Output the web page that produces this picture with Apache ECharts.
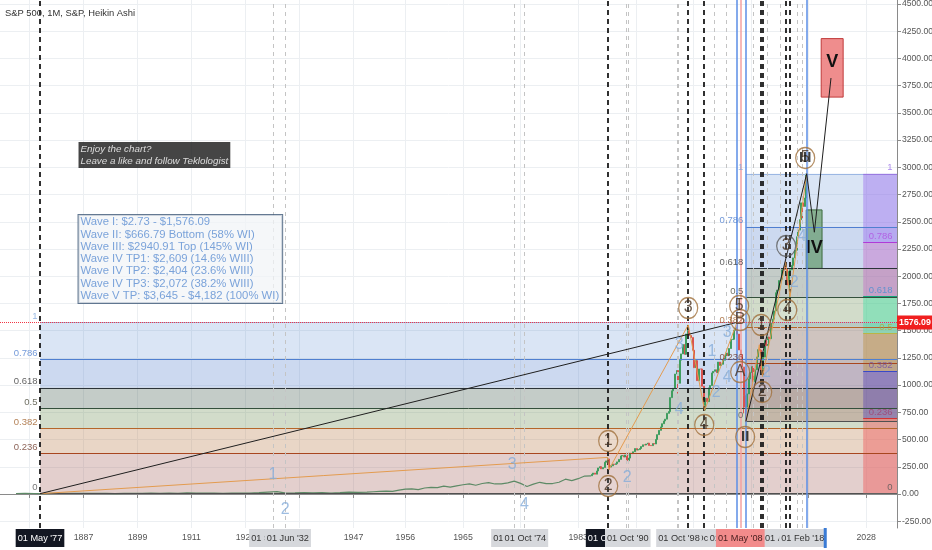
<!DOCTYPE html>
<html><head><meta charset="utf-8">
<script src="https://cdn.jsdelivr.net/npm/echarts@6/dist/echarts.min.js"></script>
<style>html,body{margin:0;padding:0;background:#fff}#c{width:932px;height:550px}</style>
</head><body><div id="c"></div><script>
// ---------------- DATA ----------------
const chartTitle = 'S&P 500, 1M, S&P, Heikin Ashi';
const yTicks = [-250,0,250,500,750,1000,1250,1500,1750,2000,2250,2500,2750,3000,3250,3500,3750,4000,4250,4500];
const xTickYears = [1875,1887,1899,1911,1923,1935,1947,1956,1965,1974,1983,1992,2001,2010,2019,2028];

// yearly (biennial before 1950) closes
const earlyYears = [1871,1873,1875,1877,1879,1881,1883,1885,1887,1889,1891,1893,1895,1897,1899,1901,1903,1905,1907,1909,
  1911,1913,1915,1917,1919,1921,1923,1925,1927,1929,1931,1933,1935,1937,1939,1941,1943,1945,1947,1949,
  1950,1951,1952,1953,1954,1955,1956,1957,1958,1959,1960,1961,1962,1963,1964,1965,1966,1967,1968,1969,
  1970,1971,1972,1973,1974,1975,1976,1977,1978,1979,1980,1981,1982,1983,1984];
const earlyClose = [4.44,4.8,4.5,3.3,4.9,6.2,5.3,5.2,5.4,5.3,5.5,4.3,5.1,5.4,6.9,8.3,6.3,9.3,7.0,10.3,
  9.1,8.0,8.8,6.8,8.9,7.3,8.9,12.5,17.7,21.5,8.1,10.1,13.4,10.6,12.1,8.7,11.7,17.4,15.3,16.8,
  20.4,23.8,26.6,24.8,36.0,45.5,46.7,40.0,55.2,59.9,58.1,71.6,63.1,75.0,84.8,92.4,80.3,96.5,103.9,92.1,
  92.2,102.1,118.1,97.6,68.6,90.2,107.5,95.1,96.1,107.9,135.8,122.6,140.6,164.9,167.2];

// quarterly closes from 1985 Q1
const quarterStart = 1985;
const quarterClose = [180.7,191.9,182.1,211.3, 238.9,250.8,231.3,242.2, 291.7,304.0,321.8,247.1, 258.9,273.5,271.9,277.7,
  294.9,317.9,349.2,353.4, 339.9,358.0,306.1,330.2, 375.2,371.2,387.9,417.1, 403.7,408.1,417.8,435.7,
  451.7,450.5,458.9,466.5, 445.8,444.3,462.7,459.3, 500.7,544.8,584.4,615.9, 645.5,670.6,687.3,740.7,
  757.1,885.1,947.3,970.4, 1101.8,1133.8,1017.0,1229.2, 1286.4,1372.7,1282.7,1469.3, 1498.6,1454.6,1436.5,1320.3,
  1160.3,1224.4,1040.9,1148.1, 1147.4,989.8,815.3,879.8, 848.2,974.5,996.0,1111.9, 1126.2,1140.8,1114.6,1211.9,
  1180.6,1191.3,1228.8,1248.3, 1294.9,1270.2,1335.9,1418.3, 1420.9,1503.4,1526.8,1468.4, 1322.7,1280.0,1166.4,903.3,
  797.9,919.3,1057.1,1115.1, 1169.4,1030.7,1141.2,1257.6, 1325.8,1320.6,1131.4,1257.6, 1408.5,1362.2,1440.7,1426.2,
  1569.2,1606.3,1681.6,1848.4, 1872.3,1960.2,1972.3,2058.9, 2067.9,2063.1,1920.0,2043.9, 2059.7,2098.9,2168.3,2238.8,
  2362.7,2423.4,2519.4,2673.6, 2640.9,2718.4,2913.98];
// intra-quarter extremes [year, price]
const wickExtremes = [[1987.6,336],[1987.8,224],[1990.8,295],[1998.7,923],[2000.2,1552.9],[2002.75,768],[2007.8,1576.09],
  [2008.9,741],[2009.2,666.79],[2011.3,1370],[2011.8,1075],[2015.4,2134],[2016.1,1810],[2018.1,2532],[2018.7,2940.91]];

const lastPrice = 1576.09;

// wave pivots [year, price]
const primaryWaveI = [[1877.33,2.73],[2007.8,1576.09]];
const primaryWaveIII = [[2009.2,666.79],[2018.7,2940.91],[2019.9,2404],[2022.5,3820]];
const subWavesI = [[1877.33,2.73],[1987.6,336],[1987.8,224],[2000.2,1552.9],[2002.75,768],[2007.8,1576.09]];
const subWavesIII = [[2009.2,666.79],[2011.3,1370],[2011.8,1075],[2015.4,2134],[2016.1,1810],[2018.7,2940.91]];

// target boxes [startYear, endYear, low, high, label]
const targetBoxes = [[2018.63,2021.1,2072,2609,'IV'],[2020.97,2024.4,3645,4182,'V']];

// fib retracements
const fibRatios = [1,0.786,0.618,0.5,0.382,0.236,0];
const fibA = {start:1877.33, low:2.73, high:1576.09};
const fibB = {start:2009.2, low:666.79, high:2940.91};
const fibC = {start:2027.53, low:2.73, high:2940.91};

// circled wave labels [year, price, text, kind]
const circleLabels = [[1987.69,487,'1','c'],[1987.69,73,'2','c'],[2000.19,1708,'3','c'],[2002.69,634,'4','c'],
  [2008.16,1727,'5','c'],[2008.16,1727,'I','t'],[2008.31,1598,'B','c'],[2008.31,1120,'A','c'],[2009.09,523,'II','b'],
  [2011.59,1552,'1','c'],[2011.75,937,'2','c'],[2015.5,2278,'3','g'],[2015.66,1690,'4','c'],[2018.47,3086,'5','c'],[2018.47,3086,'III','bt']];
// minor wave labels [year, price, text]
const minorLabels = [[1929.1,174,'1'],[1931.8,-147,'2'],[1972.7,266,'3'],[1974.6,-101,'4'],[1990.65,147,'2'],
  [1998.8,1368,'3'],[1998.8,771,'4'],[2003.9,1304,'1'],[2004.55,928,'2'],[2006.3,1479,'3'],[2006.3,1065,'4'],
  [2012.4,1111,'2'],[2016.75,1938,'2'],[2018.0,2360,'4']];

// vertical markers (years)
const blackDashYears = [1877.33,1987.69,2000.19,2002.69,2011.6,2011.9,2015.5,2016.0];
const grayDashYears = [1929.1,1931.8,1973.0,1974.6,1990.5,1990.8,1998.4,1998.7,2004.3,2006.2,2010.3,2012.6,2014.5,2017.3,2018.0];
const blueLineYears = [2007.8,2009.2,2018.7];
const redLineYears = [2008.33];

// time-axis highlight labels [year, text, kind]
const axisMarks = [[1877.33,"01 May '77",'dark'],[1929.1,"01 Sep '29",'gray'],[1932.42,"01 Jun '32",'gray'],
  [1973.0,"01 Jan '73",'gray'],[1974.75,"01 Oct '74",'gray'],[1987.75,"01 Oct '87",'dark'],[1990.75,"01 Oct '90",'gray'],
  [2002.75,"01 Oct '02",'gray'],[1998.75,"01 Oct '98",'gray'],[2006.8,"01 Oct '06",'gray'],[2011.8,"01 Oct '11",'gray'],
  [2015.6,"01 Aug '15",'gray'],[2018.08,"01 Feb '18",'gray'],[2008.33,"01 May '08",'red'],[2021.6,'','marker']];

// notes: anchor [year, price]
const noteAnchor = [1885.78,3233];
const noteLines = ['Enjoy the chart?','Leave a like and follow Teklologist'];
const infoAnchor = [1885.78,2562];
const infoLines = ['Wave I: $2.73 - $1,576.09','Wave II: $666.79 Bottom (58% WI)','Wave III: $2940.91 Top (145% WI)',
  'Wave IV TP1: $2,609 (14.6% WIII)','Wave IV TP2: $2,404 (23.6% WIII)','Wave IV TP3: $2,072 (38.2% WIII)','Wave V TP: $3,645 - $4,182 (100% WI)'];

// ---------------- STYLE ----------------
const SANS = "'Liberation Sans',Arial,sans-serif";
const abLine = ['#9bb7e3','#4f7fd0','#2b3338','#34503c','#b5662a','#a8461f','#505050'];
const abText = ['#7fa6dc','#4f7fd0','#3a3a3a','#4a4a3a','#a0602a','#6e3a2a','#555555'];
const abZone = ['rgba(70,125,205,0.2)','rgba(85,128,205,0.3)','rgba(86,109,98,0.35)','rgba(105,138,78,0.3)','rgba(182,118,65,0.3)','rgba(162,95,88,0.3)'];
const cLine = ['#9a7ae0','#b03ad8','#15a37a','#b9b545','#3949c8','#d33333','#606060'];
const cText = ['#9a6fe8','#b050e0','#4a8fd0','#b0a840','#7050a8','#a04070','#555555'];
const cZone = ['rgba(156,111,240,0.45)','rgba(200,110,200,0.45)','rgba(80,225,170,0.5)','rgba(190,150,80,0.5)','rgba(90,70,180,0.45)','rgba(240,100,100,0.5)'];
const markStyle = {dark:{bg:'#131722',fg:'#ffffff'},gray:{bg:'#d6d8dc',fg:'#333333'},red:{bg:'#f28b8b',fg:'#4a2020'}};

// time index: pre-1950 history is compressed on the chart's bar axis
const BREAK = 1950, POST = 6.4/4.5;
const tx = y => y <= BREAK ? y : BREAK + (y - BREAK) * POST;
const txInv = i => i <= BREAK ? i : BREAK + (i - BREAK) / POST;
const X_MIN = 1868.44, X_MAX = 2067.78;

// ---------------- BUILD ----------------
const fibVal = (f, r) => f.low + (f.high - f.low) * r;
function fibZones(f, colors, x2) {
  const out = [];
  for (let i = 0; i < fibRatios.length - 1; i++) {
    out.push([{coord:[tx(f.start), fibVal(f, fibRatios[i])], itemStyle:{color:colors[i]}},
              {coord:[x2, fibVal(f, fibRatios[i+1])]}]);
  }
  return out;
}
function fibLines(f, colors) {
  return fibRatios.map((r, i) => [{coord:[tx(f.start), fibVal(f, r)], lineStyle:{color:colors[i], width:1, type:'solid'}},
                                  {coord:[X_MAX, fibVal(f, r)]}]);
}
function fibLabelsLeft(f, colors) {
  return fibRatios.map((r, i) => ({value:[tx(f.start), fibVal(f, r)], label:{formatter:String(r), color:colors[i], position:'left', distance:2, offset:[0,-6]}}));
}
function fibLabelsRight(f, colors) {
  return fibRatios.map((r, i) => ({value:[X_MAX, fibVal(f, r)], label:{formatter:String(r), color:colors[i], position:'left', distance:4, offset:[0,-6]}}));
}

const candleData = [];
let prev = earlyClose[earlyClose.length - 1];
quarterClose.forEach((c, i) => {
  const yr = quarterStart + i * 0.25 + 0.125;
  let lo = Math.min(prev, c), hi = Math.max(prev, c);
  wickExtremes.forEach(([ey, ev]) => {
    if (Math.floor((ey - quarterStart) * 4) === i) { lo = Math.min(lo, ev); hi = Math.max(hi, ev); }
  });
  candleData.push([tx(yr), prev, c, lo, hi]);
  prev = c;
});

const vLines = [];
blackDashYears.forEach(y => vLines.push({xAxis:tx(y), lineStyle:{color:'#1a1a1a', width:1.8, type:[5,4]}}));
grayDashYears.forEach(y => vLines.push({xAxis:tx(y), lineStyle:{color:'#c4c4c4', width:1, type:[4,4]}}));
blueLineYears.forEach(y => vLines.push({xAxis:tx(y), lineStyle:{color:'#5b8ee6', width:1.5, type:'solid'}}));
redLineYears.forEach(y => vLines.push({xAxis:tx(y), lineStyle:{color:'#f3a0a0', width:1.5, type:'solid'}}));

const circleData = circleLabels.map(([y, v, t, k]) => {
  const item = {value:[tx(y), v], label:{formatter:t}};
  if (k === 'g') item.itemStyle = {borderColor:'#5a5a5a'};
  if (k === 't' || k === 'bt') { item.symbolSize = 0; }
  if (k === 'b' || k === 'bt') item.label = {formatter:t, color:'#111', fontWeight:'bold', fontSize:15};
  if (k === 't') item.label = {formatter:t, color:'#4a3320', fontSize:16};
  return item;
});

const lineSeries = (pts, color, z) => ({type:'line', data:pts.map(p => [tx(p[0]), p[1]]), symbol:'none', silent:true, z,
  lineStyle:{color, width:1}});

const option = {
  animation:false,
  title:{text:chartTitle, left:5, top:9, padding:0, textStyle:{fontFamily:SANS, fontSize:9.4, fontWeight:'normal', color:'#333'}},
  grid:{left:0, right:35, top:0, bottom:22, outerBoundsMode:'none', containLabel:false},
  xAxis:{type:'value', min:X_MIN, max:X_MAX,
    axisLine:{lineStyle:{color:'#8a8a8a'}},
    axisTick:{customValues:xTickYears.map(tx), length:4, lineStyle:{color:'#8a8a8a'}},
    axisLabel:{customValues:xTickYears.map(tx), formatter:v => String(Math.round(txInv(v))), color:'#555', fontFamily:SANS, fontSize:8.8, margin:5},
    splitLine:{show:true, lineStyle:{color:'#eceff2'}}},
  yAxis:{type:'value', position:'right', min:-312.3, max:4536.7,
    axisLine:{show:true, lineStyle:{color:'#8a8a8a'}},
    axisTick:{show:true, customValues:yTicks, length:4, lineStyle:{color:'#8a8a8a'}},
    axisLabel:{customValues:yTicks, formatter:v => v.toFixed(2), color:'#555', fontFamily:SANS, fontSize:8.6, margin:5},
    splitLine:{show:true, lineStyle:{color:'#eceff2'}}},
  series:[
    {type:'line', data:[], z:1, silent:true,
      markArea:{silent:true, data:[...fibZones(fibA, abZone, X_MAX), ...fibZones(fibB, abZone, X_MAX), ...fibZones(fibC, cZone, X_MAX)]}},
    {type:'line', data:[], z:2, silent:true,
      markLine:{silent:true, symbol:['none','none'], label:{show:false},
        data:[...fibLines(fibA, abLine), ...fibLines(fibB, abLine), ...fibLines(fibC, cLine), ...vLines,
          {yAxis:lastPrice, lineStyle:{color:'#f23645', width:1, type:'dotted'},
           label:{show:true, position:'end', distance:0, formatter:lastPrice.toFixed(2), color:'#fff', backgroundColor:'#f01f1f',
             padding:[3,2,2,2], fontFamily:SANS, fontSize:8.8, fontWeight:'bold'}}]}},
    {type:'line', data:earlyYears.map((y, i) => [tx(y + 1), earlyClose[i]]), symbol:'none', silent:true, z:3,
      lineStyle:{color:'#5d8a66', width:1.2}},
    {type:'candlestick', data:candleData, encode:{x:0, y:[1,2,3,4]}, barWidth:1.6, silent:true, z:3,
      itemStyle:{color:'#3f9d5f', color0:'#d9534f', borderColor:'#3f9d5f', borderColor0:'#d9534f', borderWidth:1}},
    {type:'line', data:[], z:4, silent:true,
      markArea:{silent:true, data:targetBoxes.map(([a, b, lo, hi, t], i) => [
        {coord:[tx(a), lo], itemStyle:i === 0 ? {color:'rgba(70,135,65,0.55)', borderColor:'#3d6b3d', borderWidth:1} : {color:'rgba(230,80,80,0.65)', borderColor:'#c03a3a', borderWidth:1},
         label:{show:true, position:'inside', formatter:t, color:'#111', fontFamily:SANS, fontSize:18, fontWeight:'bold', offset:i === 0 ? [0,9] : [0,-6]}},
        {coord:[tx(b), hi]}])}},
    lineSeries(subWavesI, '#e39b4f', 5),
    lineSeries(subWavesIII, '#e39b4f', 5),
    lineSeries(primaryWaveI, '#1e1e1e', 5),
    lineSeries(primaryWaveIII, '#1e1e1e', 5),
    {type:'scatter', data:circleData, symbol:'circle', symbolSize:[19,21], silent:true, z:6,
      itemStyle:{color:'rgba(255,255,255,0.12)', borderColor:'#a0703c', borderWidth:1.3},
      label:{show:true, position:'inside', color:'#4a3320', fontFamily:SANS, fontSize:16, textBorderWidth:0}},
    {type:'scatter', data:minorLabels.map(([y, v, t]) => ({value:[tx(y), v], label:{formatter:t}})), symbolSize:1, silent:true, z:6,
      itemStyle:{color:'rgba(0,0,0,0)'}, label:{show:true, position:'inside', color:'#86acd9', fontFamily:SANS, fontSize:16, textBorderWidth:0}},
    {type:'scatter', data:[...fibLabelsLeft(fibA, abText), ...fibLabelsLeft(fibB, abText), ...fibLabelsRight(fibC, cText)],
      symbolSize:1, silent:true, z:6, itemStyle:{color:'rgba(0,0,0,0)'}, label:{show:true, fontFamily:SANS, fontSize:9.5}},
    {type:'scatter', symbolSize:1, silent:true, z:7, itemStyle:{color:'rgba(0,0,0,0)'},
      data:[
        {value:[tx(noteAnchor[0]), noteAnchor[1]], label:{show:true, position:'right', distance:0, align:'left', verticalAlign:'top',
          formatter:noteLines.join('\n'), color:'#fff', fontStyle:'italic', fontFamily:SANS, fontSize:9.8, lineHeight:12,
          backgroundColor:'#161616', padding:[1,2,1,2]}},
        {value:[tx(infoAnchor[0]), infoAnchor[1]], label:{show:true, position:'right', distance:0, align:'left', verticalAlign:'top',
          formatter:infoLines.join('\n'), color:'#5b8dd2', fontFamily:SANS, fontSize:11.3, lineHeight:12.3,
          backgroundColor:'rgba(242,244,247,0.92)', borderColor:'#3d5877', borderWidth:1, padding:[1,3,1,2]}}]},
    {type:'custom', coordinateSystem:'cartesian2d', clip:false, silent:true, z:8,
      data:axisMarks.map(m => [tx(m[0]), 0]),
      renderItem:(params, api) => {
        const m = axisMarks[params.dataIndex];
        const x = api.coord([api.value(0), 0])[0];
        const cs = params.coordSys, yTop = cs.y + cs.height;
        if (m[2] === 'marker') return {type:'rect', shape:{x:x - 1.5, y:yTop, width:3, height:20}, style:{fill:'#3a7bd5'}};
        const st = markStyle[m[2]];
        return {type:'text', x:x, y:yTop + 1, style:{text:m[1], fill:st.fg, backgroundColor:st.bg, padding:[5,2,4,2],
          font:'9.2px ' + SANS, align:'center', verticalAlign:'top'}};
      }}
  ]
};
const chart = echarts.init(document.getElementById('c'), null, {renderer:'canvas'});
chart.setOption(option);
</script></body></html>
